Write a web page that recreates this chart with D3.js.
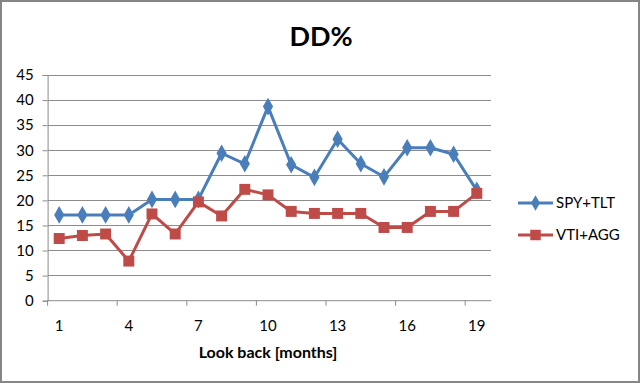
<!DOCTYPE html>
<html><head><meta charset="utf-8">
<script src="https://cdn.jsdelivr.net/npm/d3@7"></script>
<style>body{margin:0;background:#fff}svg{display:block}</style>
</head><body>
<script>
const categories = d3.range(1, 20);
const spyTlt = [17.1,17.1,17.1,17.1,20.2,20.2,20.2,29.4,27.3,38.7,27.1,24.6,32.2,27.3,24.7,30.5,30.5,29.2,22.0];
const vtiAgg = [12.4,13.0,13.3,7.9,17.3,13.3,19.7,16.9,22.2,21.1,17.8,17.4,17.4,17.4,14.6,14.6,17.8,17.8,21.4];
const yTicks = d3.range(0, 46, 5);
const xTickLabels = [1,4,7,10,13,16,19];
const seriesNames = ["SPY+TLT","VTI+AGG"];
const colors = ["#4a7ebb","#be4b48"];

const W=640,H=383;
const svg=d3.select("body").append("svg").attr("width",W).attr("height",H);
svg.append("rect").attr("x",1).attr("y",1).attr("width",W-2).attr("height",H-2).attr("fill","#fff").attr("stroke","#868686").attr("stroke-width",2);

const pL=47.6,pR=488.4,pT=75,pB=300.7;
const x=d3.scaleBand().domain(categories).range([pL,pR]);
const y=d3.scaleLinear().domain([0,45]).range([pB,pT]);
const font="Lato, 'Open Sans', sans-serif";

// gridlines
svg.append("g").selectAll("line").data(yTicks.filter(d=>d>0)).join("line")
  .attr("x1",pL).attr("x2",pR+3).attr("y1",d=>y(d)).attr("y2",d=>y(d))
  .attr("stroke","#8c8c8c").attr("stroke-width",1).attr("shape-rendering","crispEdges");

// y axis
const ya=svg.append("g").attr("transform",`translate(${pL},0)`)
  .call(d3.axisLeft(y).tickValues(yTicks).tickSize(5).tickPadding(6));
ya.select(".domain").attr("stroke","#8c8c8c");
ya.selectAll(".tick line").attr("stroke","#8c8c8c");
ya.selectAll("text").attr("font-family",font).attr("font-size",15).attr("fill","#000").attr("dx","-3");

// x axis
const xa=svg.append("g").attr("transform",`translate(0,${pB})`);
xa.append("line").attr("x1",pL).attr("x2",pR+3).attr("y1",0).attr("y2",0).attr("stroke","#8c8c8c");
xa.selectAll("line.t").data(categories.filter((d,i)=>i%3===0)).join("line").attr("class","t")
  .attr("x1",d=>x(d)).attr("x2",d=>x(d)).attr("y1",0).attr("y2",5).attr("stroke","#8c8c8c");
xa.selectAll("text").data(xTickLabels).join("text")
  .attr("x",d=>x(d)+x.bandwidth()/2).attr("y",30).attr("text-anchor","middle")
  .attr("font-family",font).attr("font-size",15).attr("fill","#000").text(d=>d);

svg.append("text").attr("x",(pL+pR)/2).attr("y",358).attr("text-anchor","middle")
  .attr("font-family",font).attr("font-size",16).attr("font-weight","bold").text("Look back [months]");
svg.append("text").attr("x",321).attr("y",46).attr("text-anchor","middle")
  .attr("font-family",font).attr("font-size",27).attr("font-weight","bold").text("DD%");

const cx=d=>x(d)+x.bandwidth()/2;
const line=d3.line().x((d,i)=>cx(categories[i])).y(d=>y(d));

[spyTlt,vtiAgg].forEach((vals,k)=>{
  svg.append("path").datum(vals).attr("d",line).attr("fill","none").attr("stroke",colors[k]).attr("stroke-width",3).attr("stroke-linejoin","round");
  svg.append("g").selectAll("path").data(vals).join("path")
    .attr("transform",(d,i)=>`translate(${cx(categories[i])},${y(d)})`)
    .attr("d",k===0?d3.symbol().type(d3.symbolDiamond).size(90):d3.symbol().type(d3.symbolSquare).size(120))
    .attr("fill",colors[k]);
});

// legend
const lg=svg.append("g");
seriesNames.forEach((n,k)=>{
  const yy=203+k*32;
  lg.append("line").attr("x1",518).attr("x2",553).attr("y1",yy).attr("y2",yy).attr("stroke",colors[k]).attr("stroke-width",3);
  lg.append("path").attr("transform",`translate(535.5,${yy})`)
    .attr("d",k===0?d3.symbol().type(d3.symbolDiamond).size(70)():d3.symbol().type(d3.symbolSquare).size(110)())
    .attr("fill",colors[k]);
  lg.append("text").attr("x",556).attr("y",yy+5).attr("font-family",font).attr("font-size",15).text(n);
});
</script>
</body></html>
